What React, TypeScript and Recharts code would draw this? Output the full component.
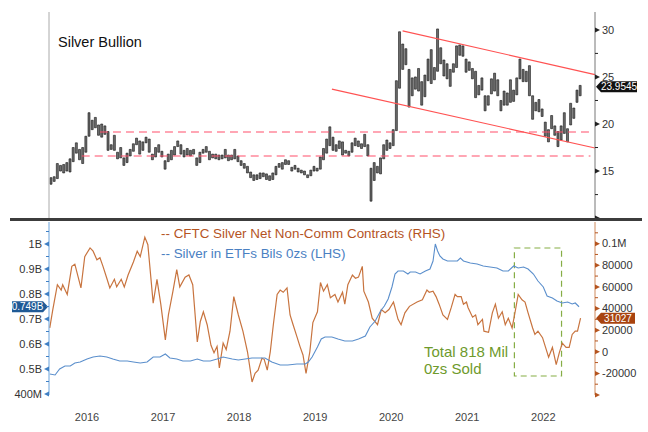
import React from "react";
import {
  ComposedChart, Bar, Line, XAxis, YAxis,
  ReferenceLine, ReferenceArea,
} from "recharts";

const FONT = "'Liberation Sans', Arial, sans-serif";
const X_DOMAIN: [number, number] = [2016, 2023.18];

// silver bullion, half-month low / high, Jan 2016 .. Dec 2022
const silverLow = [
  13.6, 13.9, 14.2, 15.0, 14.8, 15.0, 14.9, 16.0, 16.9, 16.2, 15.8, 17.0, 18.7, 19.4, 19.6, 18.8, 18.6, 18.9, 17.2, 17.3, 17.2, 16.3, 16.4, 15.6,
  15.9, 16.6, 17.1, 17.8, 16.8, 17.2, 18.0, 17.0, 16.2, 16.5, 17.0, 16.5, 15.2, 16.0, 16.2, 16.7, 17.6, 16.8, 16.5, 16.7, 16.6, 16.8, 15.6, 15.9,
  16.9, 17.0, 16.2, 16.4, 16.3, 16.2, 16.3, 16.4, 16.1, 16.2, 16.3, 16.0, 15.6, 15.3, 14.8, 14.3, 14.0, 14.1, 14.2, 14.4, 14.1, 14.0, 14.1, 14.6,
  15.4, 15.2, 15.7, 15.7, 15.0, 15.2, 14.9, 14.8, 14.6, 14.3, 14.5, 15.0, 15.0, 15.2, 16.2, 16.9, 17.7, 17.2, 17.1, 17.4, 16.7, 16.9, 16.6, 17.0,
  17.7, 17.6, 17.4, 17.6, 16.6, 11.8, 14.0, 14.8, 14.7, 16.3, 17.2, 17.4, 17.7, 19.3, 23.8, 25.8, 26.3, 21.8, 23.0, 23.7, 23.5, 22.0, 22.9, 24.6,
  24.3, 24.7, 25.6, 26.4, 25.1, 24.8, 24.0, 25.5, 26.0, 27.3, 27.2, 25.5, 25.7, 24.8, 22.8, 23.1, 23.6, 21.4, 22.0, 23.2, 23.5, 23.0, 21.4, 22.0,
  22.0, 22.3, 22.4, 23.1, 24.8, 24.5, 24.5, 23.0, 20.5, 21.4, 21.3, 20.8, 18.7, 18.1, 19.5, 18.8, 17.6, 18.3, 19.0, 18.1, 19.9, 20.6, 22.3, 23.0,
];
const silverHigh = [
  14.3, 14.4, 15.8, 15.6, 15.7, 15.9, 16.3, 17.5, 18.0, 17.3, 17.5, 18.7, 21.2, 20.4, 20.7, 19.9, 20.0, 19.8, 19.2, 17.8, 18.8, 17.0, 17.5, 16.4,
  16.9, 17.3, 17.9, 18.5, 18.2, 18.1, 18.6, 18.4, 16.8, 17.5, 17.8, 17.1, 16.1, 16.8, 17.2, 17.6, 18.2, 17.8, 17.2, 17.4, 17.2, 17.3, 16.4, 17.0,
  17.3, 17.6, 17.1, 16.8, 16.8, 16.7, 16.7, 17.3, 16.7, 16.7, 17.3, 16.6, 16.1, 15.8, 15.5, 14.9, 14.6, 14.6, 14.8, 14.8, 14.7, 14.5, 14.8, 15.5,
  15.8, 15.9, 16.2, 16.1, 15.4, 15.6, 15.3, 15.1, 15.0, 14.6, 15.1, 15.5, 15.3, 16.5, 17.4, 18.4, 19.7, 18.6, 17.8, 18.2, 18.1, 17.2, 17.1, 18.0,
  18.5, 18.2, 17.9, 18.9, 17.8, 15.3, 15.9, 15.5, 16.4, 17.8, 18.3, 18.0, 19.4, 24.6, 29.8, 28.5, 28.0, 25.8, 24.9, 25.0, 25.9, 24.5, 25.2, 26.9,
  27.9, 26.0, 30.1, 28.1, 26.8, 26.4, 25.8, 26.4, 28.3, 28.4, 28.3, 26.9, 26.6, 25.9, 25.6, 24.1, 24.9, 23.0, 23.0, 24.8, 25.4, 24.7, 22.5, 23.5,
  23.3, 24.7, 23.6, 24.9, 26.9, 25.8, 25.6, 26.2, 23.0, 22.3, 22.6, 21.6, 20.2, 19.4, 20.9, 19.8, 19.2, 19.8, 21.2, 19.5, 22.2, 21.7, 23.6, 24.1,
];
const silverLast = 23.9545;

// channel and support levels drawn on the price panel
const channelUpper = [[2020.65, 29.9], [2023.18, 25.25]];
const channelLower = [[2019.72, 23.7], [2023.18, 17.45]];
const supportLevels = [19.15, 16.6];
const supportStarts = [2016.67, 2016.43];
const supportEnd = 2023.12;

// CFTC silver net non-commercial contracts (RHS)
const cftcDates = [
  2016.01, 2016.05, 2016.11, 2016.16, 2016.18, 2016.24, 2016.30, 2016.34, 2016.42, 2016.47, 2016.54, 2016.58, 2016.63, 2016.67, 2016.71, 2016.76, 2016.80, 2016.86, 2016.89, 2016.95, 2016.99,
  2017.04, 2017.11, 2017.16, 2017.20, 2017.26, 2017.30, 2017.37, 2017.42, 2017.47, 2017.53, 2017.57, 2017.63, 2017.68, 2017.72, 2017.79, 2017.84, 2017.89, 2017.95, 2017.99,
  2018.03, 2018.08, 2018.13, 2018.17, 2018.21, 2018.24, 2018.29, 2018.33, 2018.38, 2018.43, 2018.49, 2018.55, 2018.61, 2018.67, 2018.71, 2018.75, 2018.80, 2018.83, 2018.87, 2018.91, 2018.95,
  2019.00, 2019.04, 2019.08, 2019.13, 2019.17, 2019.21, 2019.26, 2019.30, 2019.34, 2019.38, 2019.43, 2019.47, 2019.53, 2019.57, 2019.61, 2019.66, 2019.70, 2019.76, 2019.80, 2019.86, 2019.89, 2019.93, 2019.99,
  2020.03, 2020.07, 2020.12, 2020.14, 2020.20, 2020.25, 2020.32, 2020.37, 2020.42, 2020.47, 2020.53, 2020.59, 2020.63, 2020.68, 2020.74, 2020.84, 2020.91, 2020.97,
  2021.00, 2021.05, 2021.09, 2021.13, 2021.18, 2021.24, 2021.29, 2021.34, 2021.37, 2021.42, 2021.45, 2021.49, 2021.51, 2021.57, 2021.61, 2021.64, 2021.70, 2021.72, 2021.78, 2021.83, 2021.87, 2021.91, 2021.96,
  2022.00, 2022.04, 2022.09, 2022.13, 2022.17, 2022.22, 2022.26, 2022.30, 2022.36, 2022.39, 2022.43, 2022.49, 2022.53, 2022.57, 2022.62, 2022.67, 2022.71, 2022.75, 2022.80, 2022.84, 2022.88, 2022.92, 2022.95, 2022.99,
];
const cftcContracts = [
  22000, 39000, 62000, 57000, 62000, 53000, 79000, 81000, 59000, 88000, 96000, 93000, 85000, 87000, 79000, 68000, 59000, 67000, 60000, 67000, 60000,
  71000, 83000, 93000, 88000, 106000, 99000, 45000, 67000, 44000, 11000, 34000, 56000, 76000, 60000, 69000, 71000, 62000, 9000, 28000,
  37000, 25000, 6000, -1000, 5000, -15000, 8000, 2000, 19000, 51000, 34000, 19000, 0, -28000, -20000, -17000, -6000, -7000, -17000, 0, 25000,
  53000, 57000, 55000, 59000, 34000, 25000, 14000, 5000, -3000, -20000, 0, 27000, 37000, 64000, 56000, 62000, 50000, 53000, 46000, 55000, 44000, 62000, 71000,
  68000, 69000, 79000, 56000, 46000, 31000, 25000, 39000, 36000, 39000, 46000, 30000, 25000, 36000, 42000, 46000, 48000, 57000,
  55000, 56000, 51000, 44000, 34000, 30000, 41000, 53000, 51000, 51000, 44000, 46000, 41000, 32000, 34000, 25000, 30000, 19000, 18000, 36000, 44000, 31000, 37000,
  25000, 31000, 22000, 37000, 53000, 48000, 46000, 36000, 22000, 16000, 19000, 13000, 4000, -5000, 4000, -12000, -1000, 8000, 4000, 4000, 16000, 19000, 19000, 31027,
];
const cftcLast = 31027;

// silver held in ETFs, billions of ounces (LHS)
const etfDates = [
  2016.01, 2016.08, 2016.14, 2016.21, 2016.28, 2016.34, 2016.41, 2016.50, 2016.58, 2016.67, 2016.76, 2016.84, 2016.93,
  2017.03, 2017.11, 2017.20, 2017.29, 2017.37, 2017.46, 2017.53, 2017.59, 2017.68, 2017.76, 2017.86, 2017.95,
  2018.03, 2018.12, 2018.21, 2018.29, 2018.41, 2018.49, 2018.58, 2018.67, 2018.75, 2018.84, 2018.93,
  2019.04, 2019.14, 2019.26, 2019.37, 2019.41, 2019.46, 2019.53, 2019.58, 2019.63, 2019.72, 2019.80, 2019.89, 2019.99,
  2020.07, 2020.16, 2020.22, 2020.29, 2020.36, 2020.41, 2020.46, 2020.51, 2020.55, 2020.59, 2020.66, 2020.72, 2020.75, 2020.82, 2020.88, 2020.95,
  2021.01, 2021.05, 2021.08, 2021.11, 2021.14, 2021.18, 2021.24, 2021.30, 2021.37, 2021.41, 2021.45, 2021.54, 2021.63, 2021.71, 2021.80, 2021.89, 2021.97,
  2022.04, 2022.11, 2022.17, 2022.24, 2022.30, 2022.37, 2022.43, 2022.50, 2022.55, 2022.62, 2022.68, 2022.75, 2022.82, 2022.88, 2022.92, 2022.97,
];
const etfOunces = [
  0.48, 0.476, 0.5, 0.512, 0.512, 0.524, 0.528, 0.54, 0.548, 0.552, 0.548, 0.54, 0.532,
  0.532, 0.528, 0.524, 0.528, 0.548, 0.548, 0.56, 0.544, 0.54, 0.532, 0.532, 0.54,
  0.532, 0.532, 0.54, 0.548, 0.54, 0.536, 0.54, 0.544, 0.544, 0.544, 0.528,
  0.516, 0.516, 0.52, 0.52, 0.528, 0.548, 0.588, 0.62, 0.628, 0.628, 0.62, 0.612, 0.612,
  0.62, 0.632, 0.668, 0.692, 0.732, 0.752, 0.78, 0.828, 0.88, 0.892, 0.892, 0.88, 0.888, 0.888, 0.88, 0.892,
  0.9, 0.932, 1.0, 0.972, 0.952, 0.94, 0.932, 0.932, 0.932, 0.944, 0.932, 0.924, 0.92, 0.912, 0.908, 0.904, 0.892,
  0.892, 0.912, 0.904, 0.908, 0.9, 0.88, 0.852, 0.828, 0.792, 0.784, 0.772, 0.764, 0.768, 0.76, 0.764, 0.749,
];
const etfLast = 0.749;

// sold-off window annotation
const soldBoxX = [2022.12, 2022.74];
const soldBoxY = [0.472, 0.984];

const yearTicks = [2016.5, 2017.5, 2018.5, 2019.5, 2020.5, 2021.5, 2022.5];

const priceLabelled = [15, 20, 25, 30];
const priceMarked = [10, 15, 20, 25, 30];
const priceTicks = [10, 12.5, 15, 17.5, 20, 22.5, 25, 27.5, 30];

const etfLabelled = [0.4, 0.5, 0.6, 0.7, 0.8, 0.9, 1.0];
const etfTicks = [0.4, 0.45, 0.5, 0.55, 0.6, 0.65, 0.7, 0.75, 0.8, 0.85, 0.9, 0.95, 1.0, 1.05];

const cftcLabelled = [-20000, 0, 20000, 40000, 60000, 80000, 100000];
const cftcMarked = [-40000, -20000, 0, 20000, 40000, 60000, 80000, 100000];
const cftcTicks = [-40000, -30000, -20000, -10000, 0, 10000, 20000, 30000, 40000, 50000, 60000, 70000, 80000, 90000, 100000, 110000];

const silverData = silverLow.map((lo, i) => ({ t: 2016 + (i + 0.5) / 24, range: [lo, silverHigh[i]] }));
const cftcData = cftcDates.map((t, i) => ({ t, v: cftcContracts[i] }));
const etfData = etfDates.map((t, i) => ({ t, v: etfOunces[i] }));

const ORANGE = "#c8743f";
const BLUE = "#5b8fcc";
const GREEN = "#86ad45";

type AxisCfg = {
  side: "left" | "right";
  mark: string;
  text: string;
  labelled: number[];
  marked: number[];
  fmt: (v: number) => string;
};

const near = (list: number[], v: number) => list.some((m) => Math.abs(m - v) < 1e-6);

function makeTick(cfg: AxisCfg) {
  return function Tick(props: any) {
    const { x, y, payload } = props;
    const v = payload.value;
    const d = cfg.side === "right" ? 1 : -1;
    if (!near(cfg.marked, v) && !near(cfg.labelled, v)) {
      return <line x1={x} x2={x + d * 3} y1={y} y2={y} stroke={cfg.mark} strokeWidth={1} />;
    }
    return (
      <g>
        <path d={`M${x},${y - 2.5}L${x + d * 5},${y}L${x},${y + 2.5}Z`} fill={cfg.mark} />
        {near(cfg.labelled, v) && (
          <text
            x={x + d * 7} y={y} dy="0.35em"
            textAnchor={cfg.side === "right" ? "start" : "end"}
            fontSize={11} fontFamily={FONT} fill={cfg.text}
          >
            {cfg.fmt(v)}
          </text>
        )}
      </g>
    );
  };
}

const PriceTick = makeTick({
  side: "right", mark: "#222", text: "#333",
  labelled: priceLabelled, marked: priceMarked, fmt: (v) => String(v),
});
const EtfTick = makeTick({
  side: "left", mark: "#3f7fc4", text: "#333",
  labelled: etfLabelled, marked: etfLabelled,
  fmt: (v) => (v >= 0.999 ? "1B" : v < 0.45 ? "400M" : `${v}B`),
});
const CftcTick = makeTick({
  side: "right", mark: "#b5541f", text: "#333",
  labelled: cftcLabelled, marked: cftcMarked,
  fmt: (v) => (v === 100000 ? "0.1M" : String(v)),
});

function Badge(props: any) {
  const { viewBox, text, fill, side, w } = props;
  if (!viewBox) return null;
  const h = 11;
  const tip = 5;
  const y = viewBox.y;
  const d = side === "right" ? 1 : -1;
  const ax = side === "right" ? viewBox.x + viewBox.width + 1 : viewBox.x - 1;
  const path = `M${ax},${y}L${ax + d * tip},${y - h / 2}L${ax + d * w},${y - h / 2}L${ax + d * w},${y + h / 2}L${ax + d * tip},${y + h / 2}Z`;
  return (
    <g>
      <path d={path} fill={fill} />
      <text
        x={ax + d * (tip + (w - tip) / 2)} y={y} dy="0.36em"
        textAnchor="middle" fill="#fff" fontSize={10} fontFamily={FONT}
      >
        {text}
      </text>
    </g>
  );
}

function PricePanel() {
  return (
    <ComposedChart
      width={648} height={222} data={silverData}
      margin={{ top: 12, right: 8, bottom: 2, left: 49 }}
    >
      <XAxis dataKey="t" type="number" domain={X_DOMAIN} hide allowDataOverflow />
      <YAxis
        orientation="right" domain={[9.8, 31.9]} ticks={priceTicks} interval={0}
        width={45} allowDataOverflow axisLine={{ stroke: "#777" }}
        tickLine={false} tickSize={0} tickMargin={0} tick={PriceTick}
      />
      <ReferenceLine x={2016} stroke="#aaa" />
      {supportLevels.map((lvl, i) => (
        <ReferenceLine
          key={lvl}
          segment={[{ x: supportStarts[i], y: lvl }, { x: supportEnd, y: lvl }]}
          stroke="#ff4f6a" strokeWidth={1.2} strokeDasharray="8 5"
        />
      ))}
      <Bar
        dataKey="range" barSize={2} fill="#6e6e6e" stroke="#111"
        strokeWidth={0.6} isAnimationActive={false}
      />
      {[channelUpper, channelLower].map((seg, i) => (
        <ReferenceLine
          key={i}
          segment={[{ x: seg[0][0], y: seg[0][1] }, { x: seg[1][0], y: seg[1][1] }]}
          stroke="#ff5252" strokeWidth={1.2}
        />
      ))}
      <ReferenceLine
        y={silverLast} stroke="none"
        label={<Badge text={String(silverLast)} fill="#111" side="right" w={41} />}
      />
    </ComposedChart>
  );
}

function FlowPanel() {
  return (
    <ComposedChart width={648} height={210} margin={{ top: 0, right: 0, bottom: 7, left: 0 }}>
      <XAxis
        dataKey="t" type="number" domain={X_DOMAIN} ticks={yearTicks} interval={0}
        allowDataOverflow axisLine={false} tickLine={false} tickSize={0} tickMargin={18}
        height={30} tickFormatter={(v: number) => String(Math.floor(v))}
        tick={{ fontSize: 11, fill: "#444", fontFamily: FONT }}
      />
      <YAxis
        yAxisId="left" orientation="left" domain={[0.396, 1.088]} ticks={etfTicks}
        interval={0} width={49} allowDataOverflow axisLine={{ stroke: "#6aa3dc" }}
        tickLine={false} tickSize={0} tickMargin={0} tick={EtfTick}
      />
      <YAxis
        yAxisId="right" orientation="right" domain={[-40000, 120000]} ticks={cftcTicks}
        interval={0} width={53} allowDataOverflow axisLine={{ stroke: "#cf8a5c" }}
        tickLine={false} tickSize={0} tickMargin={0} tick={CftcTick}
      />
      <ReferenceArea
        yAxisId="left" x1={soldBoxX[0]} x2={soldBoxX[1]} y1={soldBoxY[0]} y2={soldBoxY[1]}
        fill="none" fillOpacity={0} stroke={GREEN} strokeWidth={1.2} strokeDasharray="6 4"
      />
      <Line
        yAxisId="right" data={cftcData} dataKey="v" type="linear" stroke={ORANGE}
        strokeWidth={1.2} dot={false} isAnimationActive={false}
      />
      <Line
        yAxisId="left" data={etfData} dataKey="v" type="linear" stroke={BLUE}
        strokeWidth={1.1} dot={false} isAnimationActive={false}
      />
      <ReferenceLine
        yAxisId="left" y={etfLast} stroke="none"
        label={<Badge text={`${etfLast}B`} fill="#1f5a96" side="left" w={36} />}
      />
      <ReferenceLine
        yAxisId="right" y={cftcLast} stroke="none"
        label={<Badge text={String(cftcLast)} fill="#a8430f" side="right" w={39} />}
      />
    </ComposedChart>
  );
}

export default function App() {
  return (
    <div style={{ position: "absolute", left: 0, top: 0, width: 648, height: 432, background: "#fff", fontFamily: FONT }}>
      <div style={{ position: "absolute", left: 0, top: 0 }}>
        <PricePanel />
      </div>
      <div style={{ position: "absolute", left: 0, top: 222 }}>
        <FlowPanel />
      </div>
      <div style={{ position: "absolute", left: 10, top: 218, width: 632, height: 3, background: "#3c3c3c" }} />
      <div style={{ position: "absolute", left: 58, top: 34, fontSize: 14.5, color: "#111" }}>
        Silver Bullion
      </div>
      <div style={{ position: "absolute", left: 161, top: 226, fontSize: 13.4, color: "#b5541f", whiteSpace: "pre" }}>
        {"-- CFTC Silver Net Non-Comm Contracts (RHS)"}
      </div>
      <div style={{ position: "absolute", left: 161, top: 246, fontSize: 13.4, color: "#4a80c2", whiteSpace: "pre" }}>
        {"-- Silver in ETFs Bils 0zs (LHS)"}
      </div>
      <div style={{ position: "absolute", left: 424, top: 343, fontSize: 15, lineHeight: "17px", color: "#6e9a2c" }}>
        Total 818 Mil
        <br />
        0zs Sold
      </div>
    </div>
  );
}
